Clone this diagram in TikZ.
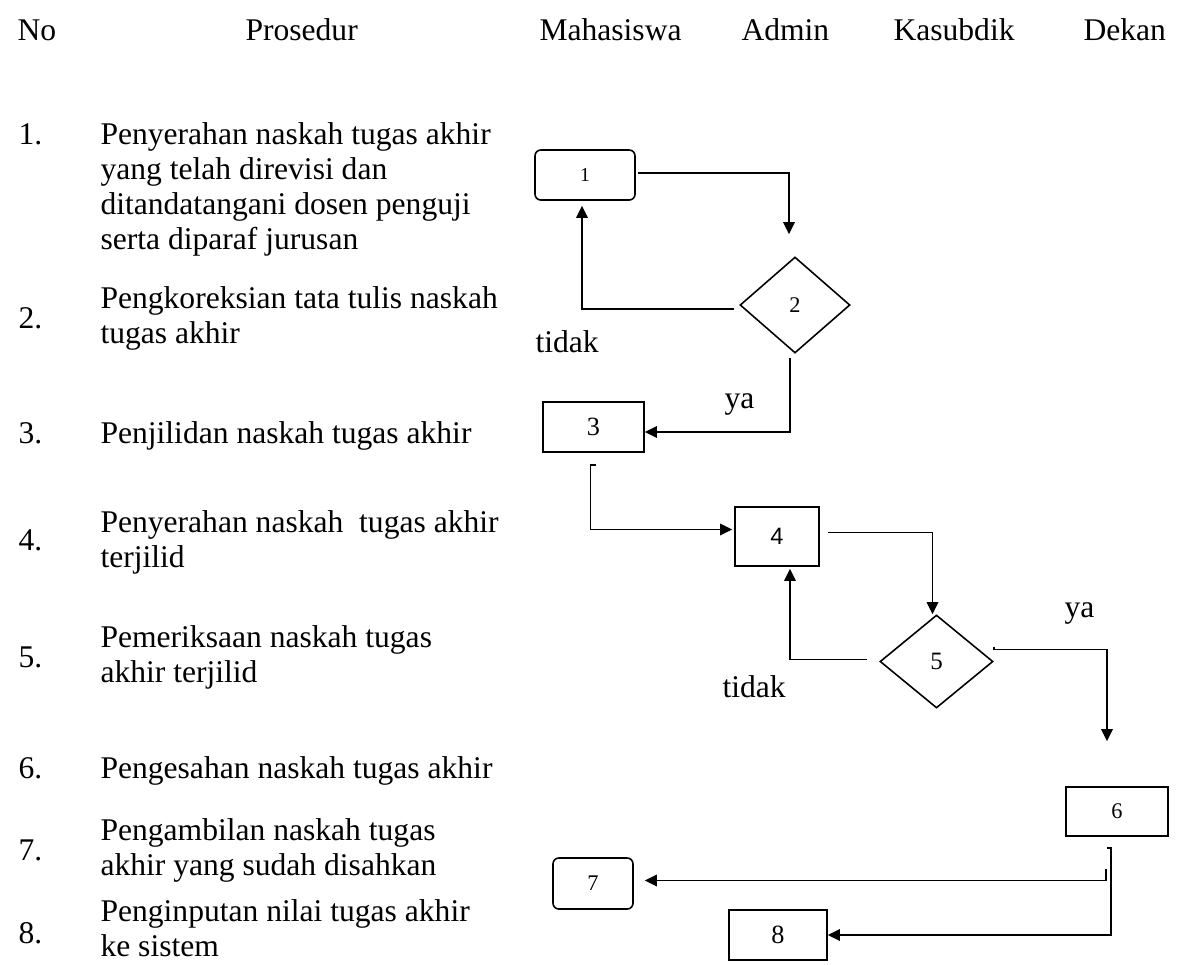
\documentclass[tikz,border=0pt]{standalone}
\usepackage{fontspec}
\setmainfont{Liberation Serif}
\setsansfont{Liberation Sans}
\usetikzlibrary{shapes.geometric,arrows.meta,calc}

\newcommand{\pxu}{0.38pt}

\tikzset{
	teks/.style={anchor=base west, inner sep=0pt, align=left, font=\fontsize{12}{13.3}\selectfont},
	kotak/.style={draw, line width=0.6pt, inner sep=0pt},
	ujung/.style={kotak, rounded corners=2.2pt},
	putusan/.style={draw, diamond, line width=0.6pt, inner sep=0pt},
	alur/.style={line width=0.6pt, -{Triangle[length=4.6pt,width=4.4pt]}}
}

\begin{document}
\begin{tikzpicture}[x=0.38pt,y=-0.38pt]
		\useasboundingbox (0,0) rectangle (1182,964);

		% Header
		\node[teks] (hNo) at (17,40) {No};
		\node[teks] (hPros) at (245,40) {Prosedur};
		\node[teks] (hMhs) at (539,40) {Mahasiswa};
		\node[teks] (hAdm) at (741,40) {Admin};
		\node[teks] (hKsb) at (893,40) {Kasubdik};
		\node[teks] (hDek) at (1083,40) {Dekan};

		% Prosedur column (base = last line)
		\node[teks] (n1) at (18,144) {1.};
		\node[teks] (p1) at (100,249) {Penyerahan naskah tugas akhir\\yang telah direvisi dan\\ditandatangani dosen penguji\\serta diparaf jurusan};
		\node[teks] (n2) at (18,328) {2.};
		\node[teks] (p2) at (100,343) {Pengkoreksian tata tulis naskah\\tugas akhir};
		\node[teks] (n3) at (18,443) {3.};
		\node[teks] (p3) at (100,443) {Penjilidan naskah tugas akhir};
		\node[teks] (n4) at (18,550) {4.};
		\node[teks] (p4) at (100,567) {Penyerahan naskah\ \ tugas akhir\\terjilid};
		\node[teks] (n5) at (18,667) {5.};
		\node[teks] (p5) at (100,682) {Pemeriksaan naskah tugas\\akhir terjilid};
		\node[teks] (n6) at (18,778) {6.};
		\node[teks] (p6) at (100,778) {Pengesahan naskah tugas akhir};
		\node[teks] (n7) at (18,860) {7.};
		\node[teks] (p7) at (100,875) {Pengambilan naskah tugas\\akhir yang sudah disahkan};
		\node[teks] (n8) at (18,943) {8.};
		\node[teks] (p8) at (100,956) {Penginputan nilai tugas akhir\\ke sistem};

		% Flow shapes
		\node[ujung, minimum width=100*\pxu, minimum height=50*\pxu, font=\fontsize{7.5}{9}\selectfont] (b1) at (585,175) {1};
		\node[putusan, minimum width=110*\pxu, minimum height=96*\pxu, font=\fontsize{8.5}{10}\selectfont] (d2) at (795,305) {2};
		\node[kotak, minimum width=101*\pxu, minimum height=50*\pxu, font=\fontsize{10}{12}\selectfont] (b3) at (593.5,427) {3};
		\node[kotak, minimum width=84*\pxu, minimum height=59*\pxu, font=\sffamily\fontsize{9}{11}\selectfont] (b4) at (777,536.5) {4};
		\node[putusan, minimum width=113*\pxu, minimum height=93*\pxu, font=\fontsize{9.5}{11}\selectfont] (d5) at (936.5,661.5) {5};
		\node[kotak, minimum width=102*\pxu, minimum height=49*\pxu, font=\fontsize{8.5}{10}\selectfont] (b6) at (1117,811.5) {6};
		\node[ujung, minimum width=80*\pxu, minimum height=51*\pxu, font=\fontsize{8.5}{10}\selectfont] (b7) at (593,883.5) {7};
		\node[kotak, minimum width=98*\pxu, minimum height=50*\pxu, font=\fontsize{10}{12}\selectfont] (b8) at (778,935) {8};

		% Labels
		\node[teks] (t2) at (535,352) {tidak};
		\node[teks] (y2) at (724,408) {ya};
		\node[teks] (t5) at (722,697) {tidak};
		\node[teks] (y5) at (1064,617) {ya};

		% Connectors
		\draw[alur] ($(b1.east)+(2,-2)$) -| ($(d2.north)+(-6,-22)$);
		\draw[alur] ($(d2.west)+(-5,4)$) -| ($(b1.south)+(-3,5)$);
		\draw[alur] ($(d2.south)+(-5,4)$) |- ($(b3.east)+(0,5)$);
		\draw[alur] ($(b3.south)+(2,12)$) -- ++(-5,0) |- ($(b4.west)+(-2,-7)$);
		\draw[alur] ($(b4.east)+(8,-4)$) -| ($(d5.north)+(-4,0)$);
		\draw[alur] ($(d5.west)+(-12,-2)$) -| ($(b4.south)+(13,2)$);
		\draw[alur] ($(d5.east)+(0,-15)$) -- ++(0,3) -| ($(b6.north)+(-10,-45)$);
		\draw[alur] ($(b6.south)+(-11,32)$) |- ($(b7.east)+(11,-3)$);
		\draw[alur] ($(b6.south)+(-10,11)$) -- ++(4,0) |- (b8.east);
\end{tikzpicture}
\end{document}
